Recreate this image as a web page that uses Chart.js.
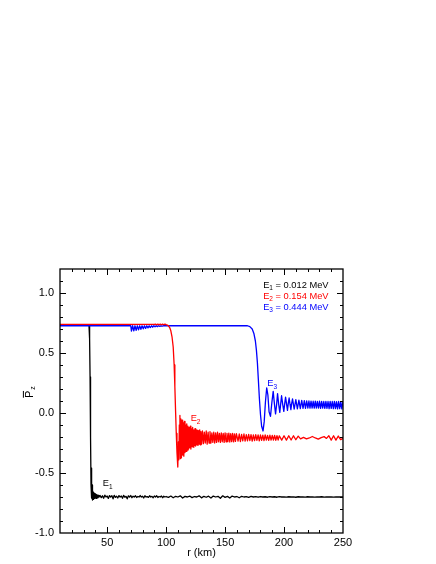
<!DOCTYPE html>
<html><head><meta charset="utf-8">
<script src="https://cdn.jsdelivr.net/npm/chart.js@4.4.1/dist/chart.umd.min.js"></script>
<style>html,body{margin:0;padding:0;background:#fff;}#wrap{width:436px;height:564px;}</style>
</head><body><div id="wrap"><canvas id="c" width="436" height="564"></canvas></div>
<script>
const FONT = '"Liberation Sans", Arial, Helvetica, sans-serif';

// axis ticks
const xTicks = [50, 100, 150, 200, 250];
const xMinor = [20, 30, 40, 50, 60, 70, 80, 90, 100, 110, 120, 130, 140, 150, 160, 170, 180, 190, 200, 210, 220, 230, 240];
const yTicks = [-1, -0.5, 0, 0.5, 1];
const yMinor = [-0.9, -0.8, -0.7, -0.6, -0.5, -0.4, -0.3, -0.2, -0.1, 0, 0.1, 0.2, 0.3, 0.4, 0.5, 0.6, 0.7, 0.8, 0.9, 1.0, 1.1];

// series labels
const seriesNames = ['E1', 'E2', 'E3'];
const energies = ['0.012', '0.154', '0.444'];

// E1 (black)
const e1DropR = [10, 34.0, 34.6, 35.1, 35.5, 35.9, 36.3, 36.6, 36.8, 37.0, 37.2, 37.4, 37.7, 38.0, 38.3, 38.6, 39.0, 39.4, 39.8, 40.2, 40.6, 41.0, 41.5, 42.0, 42.5];
const e1DropP = [0.735, 0.735, 0.725, 0.62, 0.30, -0.20, -0.60, -0.71, -0.46, -0.70, -0.60, -0.725, -0.645, -0.72, -0.66, -0.715, -0.67, -0.712, -0.675, -0.71, -0.68, -0.712, -0.685, -0.708, -0.686];
const e1NoiseAR = [43,44,45,46,47,48,49,50,51,52,53,54,55,56,57,58,59,60,61,62,63,64,65,66,67,68,69,70,71,72,73,74,75,76,77,78,79,80,81,82,83,84,85,86,87,88,89,90,91,92,93,94,95,96,97,98,99,100];
const e1NoiseAP = [-0.70,-0.688,-0.705,-0.69,-0.71,-0.685,-0.70,-0.692,-0.712,-0.688,
  -0.70,-0.69,-0.715,-0.686,-0.703,-0.694,-0.708,-0.688,-0.70,-0.692,
  -0.71,-0.686,-0.702,-0.695,-0.715,-0.69,-0.70,-0.688,-0.706,-0.693,
  -0.70,-0.69,-0.704,-0.696,-0.70,-0.688,-0.70,-0.694,-0.708,-0.69,
  -0.70,-0.697,-0.703,-0.69,-0.70,-0.695,-0.706,-0.692,-0.70,-0.69,
  -0.704,-0.696,-0.70,-0.692,-0.706,-0.694,-0.70,-0.696];
const e1NoiseBR = [102,104,106,108,110,112,114,116,118,120,122,124,126,128,130,132,134,136,138,140,142,144,146,148,150,152,154,156,158,160,162,164,166,168,170,172,174,176,178,180,182,184,186,188,190,192,194,196,198,200,202,204,206,208,210,212,214,216,218,220,222,224,226,228,230,232,234,236,238,240,242,244,246,248,250];
const e1NoiseBP = [-0.703,-0.692,-0.706,-0.694,-0.70,-0.69,-0.708,-0.695,-0.70,-0.692,
  -0.705,-0.696,-0.70,-0.69,-0.707,-0.694,-0.702,-0.693,-0.708,-0.692,
  -0.70,-0.694,-0.71,-0.69,-0.703,-0.695,-0.708,-0.692,-0.70,-0.696,
  -0.706,-0.694,-0.70,-0.697,-0.703,-0.695,-0.70,-0.697,-0.702,-0.696,
  -0.70,-0.698,-0.702,-0.697,-0.70,-0.698,-0.702,-0.697,-0.70,-0.699,
  -0.701,-0.698,-0.70,-0.699,-0.702,-0.698,-0.70,-0.699,-0.701,-0.698,
  -0.70,-0.699,-0.701,-0.699,-0.70,-0.698,-0.701,-0.699,-0.70,-0.699,
  -0.701,-0.699,-0.70,-0.70,-0.70];

// E2 (red)
const e2DropR = [10, 90, 91, 92, 93, 94, 95, 96, 97, 98, 99, 100, 101, 102, 103, 104, 105, 106, 106.8, 107.4, 108.0, 108.6, 109.2, 109.9, 110.4, 110.8, 111.2, 111.7, 112.1];
const e2DropP = [0.738, 0.738, 0.741, 0.735, 0.741, 0.735, 0.741, 0.735, 0.741, 0.735, 0.741, 0.736, 0.733, 0.726, 0.712, 0.685, 0.635, 0.55, 0.40, 0.22, 0.02, -0.17, -0.33, -0.45, -0.24, -0.39, -0.10, -0.02, -0.38];
const e2BandAR = [112.5,113,113.5,114,114.5,115,115.5,116,116.5,117,117.5,118,118.5,119,119.5,120,120.5,121,121.5,122,122.5,123,123.5,124,124.5,125,125.5,126,126.5,127,127.5,128,128.5,129,129.5,130];
const e2BandAP = [-0.05,-0.37,-0.06,-0.35,-0.08,-0.36,-0.07,-0.33,-0.10,-0.32,-0.09,-0.31,-0.11,-0.30,-0.12,-0.29,-0.11,-0.30,-0.13,-0.28,-0.12,-0.285,-0.14,-0.27,-0.13,-0.275,-0.14,-0.265,-0.145,-0.27,-0.15,-0.26,-0.14,-0.265,-0.155,-0.26];
const e2BandBR = [130.8,131.6,132.4,133.2,134,134.8,135.6,136.4,137.2,138,138.8,139.6,140.4,141.2,142,142.8,143.6,144.4,145.2,146,146.8,147.6,148.4,149.2,150,150.8,151.6,152.4,153.2,154,154.8,155.6,156.4,157.2,158,158.8,159.6];
const e2BandBP = [-0.15,-0.255,-0.16,-0.25,-0.15,-0.26,-0.16,-0.25,-0.155,-0.25,-0.165,-0.245,-0.16,-0.25,-0.165,-0.245,-0.16,-0.24,-0.17,-0.245,-0.165,-0.24,-0.17,-0.245,-0.165,-0.24,-0.17,-0.238,-0.168,-0.242,-0.172,-0.238,-0.17,-0.24,-0.175,-0.236,-0.172];
const e2BandCR = [161,162,163,164,165,166,167,168,169,170,171,172,173,174,175,176,177,178,179,180,181,182,183,184,185,186,187,188,189,190,191,192,193,194,195,196];
const e2BandCP = [-0.235,-0.175,-0.238,-0.178,-0.232,-0.175,-0.235,-0.18,-0.232,-0.178,
  -0.23,-0.18,-0.234,-0.182,-0.23,-0.18,-0.228,-0.183,-0.232,-0.182,
  -0.228,-0.185,-0.23,-0.183,-0.226,-0.186,-0.228,-0.185,-0.226,-0.187,
  -0.225,-0.186,-0.227,-0.188,-0.225,-0.19];
const e2TailR = [198,200,202,204,206,208,210,212,214,216.5,219,221.5,224,226.5,229,231.5,234,236,238,240,242,244,246,248,250];
const e2TailP = [-0.226,-0.19,-0.226,-0.19,-0.225,-0.19,-0.223,-0.193,-0.216,-0.203,-0.216,-0.208,-0.196,-0.208,-0.218,-0.205,-0.197,-0.212,-0.19,-0.226,-0.19,-0.226,-0.192,-0.222,-0.212];

// E3 (blue)
const e3FlatR = [10, 70.0, 70.6, 71.6, 72.6, 73.6, 74.6, 75.6, 76.6, 77.6, 78.6, 79.6, 80.6, 81.6, 82.6, 83.6, 84.6, 85.6, 86.6, 87.6, 88.6, 89.6, 90.6, 91.6, 92.6, 93.6, 94.6, 95.6, 96.6, 97.6, 169];
const e3FlatP = [0.727, 0.727, 0.682, 0.727, 0.685, 0.727, 0.689, 0.727, 0.693, 0.727, 0.697, 0.727, 0.701, 0.727, 0.705, 0.727, 0.709, 0.727, 0.712, 0.727, 0.715, 0.727, 0.718, 0.727, 0.72, 0.727, 0.722, 0.727, 0.724, 0.727, 0.727];
const e3DropR = [171, 173, 174.5, 175.7, 176.6, 177.4, 178.2, 179.1, 180.0, 181.0, 182.2, 183.2, 184.2, 185.3];
const e3DropP = [0.72, 0.70, 0.66, 0.60, 0.52, 0.42, 0.28, 0.12, -0.01, -0.11, -0.15, -0.07, 0.09, 0.21];
const e3OscR = [186.3, 187.3, 188.5, 189.7, 190.8, 191.8, 192.8, 193.7, 194.5, 195.5, 196.4, 197.2, 197.9, 198.9, 199.8, 200.6, 201.3, 202.2, 202.9, 203.6, 204.3, 205.1, 205.8, 206.5, 207.2];
const e3OscP = [0.15, 0.01, -0.028, 0.09, 0.18, 0.08, -0.008, 0.07, 0.161, 0.07, 0.005, 0.08, 0.144, 0.07, 0.013, 0.08, 0.133, 0.07, 0.022, 0.08, 0.125, 0.07, 0.028, 0.08, 0.117];
const e3BandR = [208.6,210.0,211.3,212.6,213.8,215.0,216.1,217.2,218.2,219.2,220.2,221.1,222,222.9,223.8,224.7,225.6,226.5,227.4,228.3,229.2,230.1,231,231.9,232.8,233.7,234.6,235.5,236.4,237.3,238.2,239.1,240,240.9,241.8,242.7,243.6,244.5,245.4,246.3,247.2,248.1,249,249.9];
const e3BandP = [0.032,0.112,0.035,0.108,0.037,0.105,0.038,0.103,0.039,0.101,
  0.04,0.1,0.04,0.099,0.041,0.098,0.04,0.099,0.041,0.097,
  0.04,0.098,0.039,0.097,0.04,0.096,0.038,0.097,0.039,0.096,
  0.037,0.097,0.038,0.096,0.036,0.097,0.037,0.095,0.035,0.096,
  0.036,0.095,0.035,0.094];

// label anchor points (data units)
const curveLabelR = [46.2, 120.8, 185.7];
const curveLabelP = [-0.612, -0.07, 0.222];
const legendR = 182.3;
const legendP = [1.044, 0.952, 0.86];

const colors = ['#000000', '#ff0000', '#0000ff'];

function pts(segs) {
  const out = [];
  segs.forEach(([R, P]) => R.forEach((r, i) => out.push({x: r, y: P[i]})));
  return out;
}

function subText(ctx, x, y, main, sub, rest, size, color) {
  ctx.fillStyle = color; ctx.textAlign = 'left'; ctx.textBaseline = 'alphabetic';
  ctx.font = size + 'px ' + FONT;
  ctx.fillText(main, x, y);
  let w = ctx.measureText(main).width;
  ctx.font = (size * 0.7) + 'px ' + FONT;
  ctx.fillText(sub, x + w, y + size * 0.28);
  w += ctx.measureText(sub).width;
  if (rest) { ctx.font = size + 'px ' + FONT; ctx.fillText(rest, x + w, y); }
}

const framePlugin = {
  id: 'frame',
  afterDatasetsDraw(chart) {
    const {ctx, chartArea: a, scales: {x, y}} = chart;
    ctx.save();
    ctx.strokeStyle = '#000'; ctx.lineWidth = 1;
    ctx.beginPath();
    xMinor.forEach(v => {
      const px = Math.round(x.getPixelForValue(v)) + 0.5;
      const L = xTicks.includes(v) ? 6 : 3;
      ctx.moveTo(px, a.bottom); ctx.lineTo(px, a.bottom - L);
      ctx.moveTo(px, a.top); ctx.lineTo(px, a.top + L);
    });
    yMinor.forEach(v => {
      const py = Math.round(y.getPixelForValue(v)) + 0.5;
      const L = (Math.abs(v * 2 - Math.round(v * 2)) < 1e-6) ? 6 : 3;
      ctx.moveTo(a.left, py); ctx.lineTo(a.left + L, py);
      ctx.moveTo(a.right, py); ctx.lineTo(a.right - L, py);
    });
    ctx.stroke();
    ctx.lineWidth = 1.3;
    ctx.strokeRect(a.left, a.top, a.right - a.left, a.bottom - a.top);

    // legend text
    energies.forEach((e, i) => {
      subText(ctx, x.getPixelForValue(legendR), y.getPixelForValue(legendP[i]), 'E', String(i + 1), ' = ' + e + ' MeV', 9.3, colors[i]);
    });
    // curve labels
    seriesNames.forEach((n, i) => {
      subText(ctx, x.getPixelForValue(curveLabelR[i]), y.getPixelForValue(curveLabelP[i]), 'E', String(i + 1), '', 9.3, colors[i]);
    });
    // y-axis title: P-bar sub z
    ctx.save();
    ctx.translate(32.5, 398);
    ctx.rotate(-Math.PI / 2);
    ctx.fillStyle = '#000'; ctx.textAlign = 'left'; ctx.textBaseline = 'alphabetic';
    ctx.font = '11px ' + FONT;
    ctx.fillText('P', 0, 0);
    const pw = ctx.measureText('P').width;
    ctx.fillRect(0.3, -9.6, pw - 0.6, 1);
    ctx.font = '7px ' + FONT;
    ctx.fillText('z', pw + 0.8, 2.5);
    ctx.restore();
    ctx.restore();
  }
};

const common = {pointRadius: 0, borderWidth: 1.3, tension: 0, borderJoinStyle: 'round', fill: false};

new Chart(document.getElementById('c'), {
  type: 'line',
  data: {
    datasets: [
      Object.assign({label: seriesNames[1], data: pts([[e2DropR, e2DropP], [e2BandAR, e2BandAP], [e2BandBR, e2BandBP], [e2BandCR, e2BandCP], [e2TailR, e2TailP]]), borderColor: colors[1], order: 0}, common),
      Object.assign({label: seriesNames[2], data: pts([[e3FlatR, e3FlatP], [e3DropR, e3DropP], [e3OscR, e3OscP], [e3BandR, e3BandP]]), borderColor: colors[2], order: 1}, common),
      Object.assign({label: seriesNames[0], data: pts([[e1DropR, e1DropP], [e1NoiseAR, e1NoiseAP], [e1NoiseBR, e1NoiseBP]]), borderColor: colors[0], order: 2}, common)
    ]
  },
  options: {
    responsive: false, animation: false, devicePixelRatio: 1,
    layout: {padding: {left: 0, right: 93, top: 269, bottom: 0}},
    plugins: {legend: {display: false}, tooltip: {enabled: false}},
    scales: {
      x: {
        type: 'linear', min: 10, max: 250,
        grid: {display: false, drawTicks: false}, border: {display: false},
        afterBuildTicks: s => { s.ticks = xTicks.map(v => ({value: v})); },
        afterFit: s => { s.height = 31; },
        ticks: {font: {family: FONT, size: 11}, color: '#000', padding: 3, maxRotation: 0, autoSkip: false, callback: v => String(v)},
        title: {display: true, text: 'r (km)', font: {family: FONT, size: 11}, color: '#000', padding: {top: 0, bottom: 4}}
      },
      y: {
        type: 'linear', min: -1, max: 1.2,
        grid: {display: false, drawTicks: false}, border: {display: false},
        afterBuildTicks: s => { s.ticks = yTicks.map(v => ({value: v})); },
        afterFit: s => { s.width = 60; },
        ticks: {font: {family: FONT, size: 11}, color: '#000', padding: 6, autoSkip: false, callback: v => Number(v).toFixed(1)}
      }
    }
  },
  plugins: [framePlugin]
});
</script></body></html>
